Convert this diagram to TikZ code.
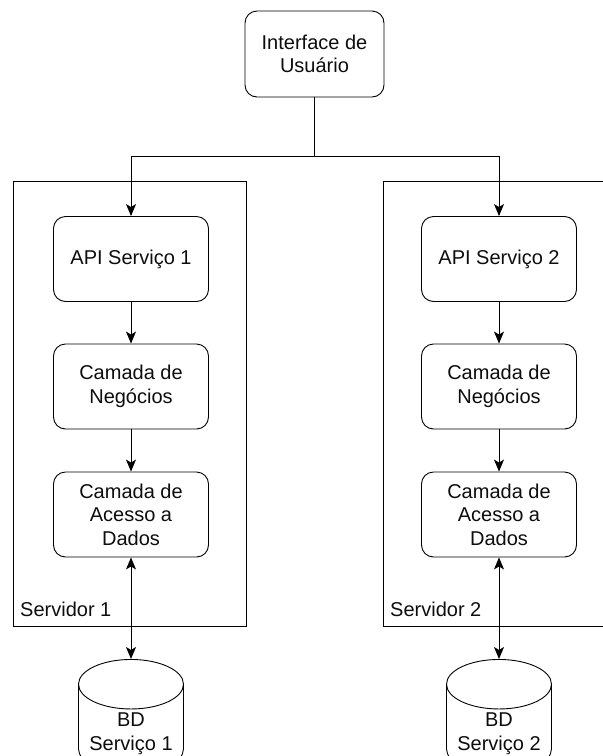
\documentclass[tikz,border=0pt]{standalone}
\usepackage{fontspec}
\setmainfont{Liberation Sans}
\usetikzlibrary{arrows.meta,shapes.geometric}
\tikzset{
  layer/.style={draw, rounded corners=12pt, minimum width=155pt, minimum height=85pt,
    align=center, line width=0.9pt, text=black!95, font=\fontsize{20}{23.5}\selectfont},
  server/.style={draw, line width=0.9pt, inner sep=0pt},
  serverlabel/.style={anchor=base west, inner sep=0pt, text=black!95, font=\fontsize{20}{23.5}\selectfont},
  database/.style={draw, cylinder, shape border rotate=90, aspect=0.55, minimum width=105pt,
    minimum height=104pt, align=center, line width=0.9pt, text=black!95, font=\fontsize{20}{23.5}\selectfont},
  flow/.style={-{Stealth[length=12pt,width=10pt,inset=3pt]}, line width=0.9pt},
  dbflow/.style={{Stealth[length=12pt,width=10pt,inset=3pt]}-{Stealth[length=12pt,width=10pt,inset=3pt]}, line width=0.9pt}
}
\begin{document}
\begin{tikzpicture}[x=1pt,y=-1pt]
  \useasboundingbox (0,0) rectangle (603,756);
  \node[layer, minimum width=139pt, minimum height=86pt] (ui) at (314.5,54) {Interface de\\Usuário};
  \coordinate (split) at (314.5,156);

  \node[server, minimum width=233pt, minimum height=445pt] (srv1) at (129.5,403.5) {};
  \node[server, minimum width=240pt, minimum height=445pt, anchor=north west] (srv2) at (383,181) {};
  \node[serverlabel] (srv1lbl) at (20,616) {Servidor 1};
  \node[serverlabel] (srv2lbl) at (390,616) {Servidor 2};

  \node[layer] (api1) at (131,259) {API Serviço 1};
  \node[layer] (neg1) at (131,386.5) {Camada de\\Negócios};
  \node[layer] (dal1) at (131,514.5) {Camada de\\Acesso a\\Dados};
  \node[layer] (api2) at (499,259) {API Serviço 2};
  \node[layer] (neg2) at (499,386.5) {Camada de\\Negócios};
  \node[layer] (dal2) at (499,514.5) {Camada de\\Acesso a\\Dados};

  \node[database, anchor=north] (db1) at (131,659) {BD\\Serviço 1};
  \node[database, anchor=north] (db2) at (499,659) {BD\\Serviço 2};

  \draw[line width=0.9pt] (ui) -- (split);
  \draw[flow] (split) -| (api1);
  \draw[flow] (split) -| (api2);
  \draw[flow] (api1) -- (neg1);
  \draw[flow] (neg1) -- (dal1);
  \draw[flow] (api2) -- (neg2);
  \draw[flow] (neg2) -- (dal2);
  \draw[dbflow] (dal1) -- (db1);
  \draw[dbflow] (dal2) -- (db2);
\end{tikzpicture}
\end{document}
